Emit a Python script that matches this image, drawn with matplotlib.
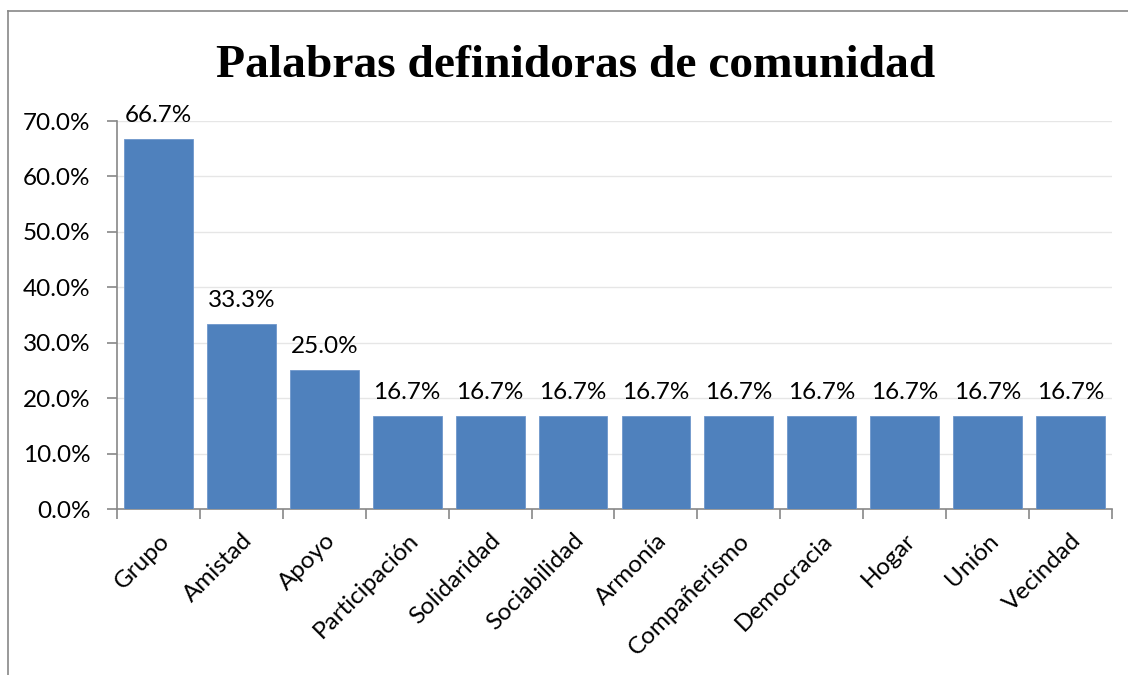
import matplotlib.pyplot as plt
from matplotlib.ticker import FuncFormatter, FixedLocator
from matplotlib.lines import Line2D

# Words and their share
palabras = ["Grupo", "Amistad", "Apoyo", "Participación", "Solidaridad", "Sociabilidad",
            "Armonía", "Compañerismo", "Democracia", "Hogar", "Unión", "Vecindad"]
porcentajes = [0.667, 0.333, 0.25, 0.167, 0.167, 0.167,
               0.167, 0.167, 0.167, 0.167, 0.167, 0.167]
yticks = [0.0, 0.1, 0.2, 0.3, 0.4, 0.5, 0.6, 0.7]

label_font = "Lato"

fig = plt.figure(figsize=(11.28, 6.75), dpi=100)
ax = fig.add_axes([0.1037, 0.2459, 0.8821, 0.5748])

x = list(range(len(palabras)))
ax.bar(x, porcentajes, width=0.83, color="#4F81BD", edgecolor="#6E97CC", linewidth=0.6, zorder=3)

# Data labels
for xi, v in zip(x, porcentajes):
    ax.text(xi, v + 0.024, f"{v*100:.1f}%", ha="center", va="bottom",
            fontsize=17.5, family=label_font, color="black", zorder=4)

ax.set_xlim(-0.5, len(palabras) - 0.5)
ax.set_ylim(0, 0.70)
ax.set_yticks(yticks)
ax.yaxis.set_major_formatter(FuncFormatter(lambda v, p: f"{v*100:.1f}%"))
ax.grid(axis="y", color="#E6E6E6", linewidth=1, zorder=0)

ax.set_xticks(x)
ax.set_xticklabels(palabras, rotation=45, ha="right", rotation_mode="anchor",
                   fontsize=17.5, family=label_font)
ax.xaxis.set_minor_locator(FixedLocator([i - 0.5 for i in range(len(palabras) + 1)]))
ax.tick_params(axis="x", which="major", length=0, pad=15)
ax.tick_params(axis="x", which="minor", length=7, color="#888888", width=1.2)
ax.tick_params(axis="y", length=7, color="#888888", width=1.2, pad=12, labelsize=17.5)
for lab in ax.get_yticklabels():
    lab.set_family(label_font)

for s in ["top", "right"]:
    ax.spines[s].set_visible(False)
for s in ["left", "bottom"]:
    ax.spines[s].set_color("#888888")
    ax.spines[s].set_linewidth(1.2)

fig.text(0.51, 0.886, "Palabras definidoras de comunidad", ha="center", va="baseline",
         fontsize=34.2, fontweight="bold", family="Liberation Serif")

# Chart frame (left and top edges)
fig.add_artist(Line2D([8/1128, 8/1128], [0, 1 - 11/675], transform=fig.transFigure,
                      color="#888888", linewidth=1.2))
fig.add_artist(Line2D([8/1128, 1], [1 - 11/675, 1 - 11/675], transform=fig.transFigure,
                      color="#888888", linewidth=1.2))

fig.savefig("out.png", dpi=100)
